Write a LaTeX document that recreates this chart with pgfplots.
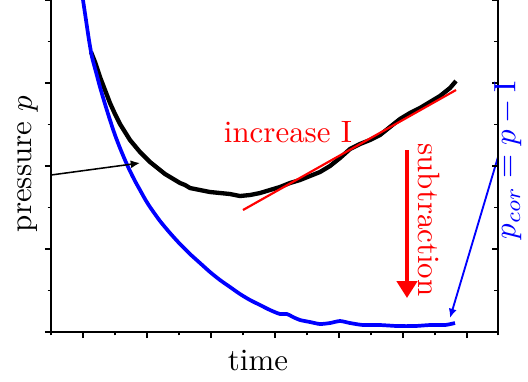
\documentclass[border=0pt]{standalone}
\usepackage{pgfplots}
\pgfplotsset{compat=1.18}
\usetikzlibrary{arrows.meta}

\pgfplotstableread{
x y
91 280
95 270
100 255
105 242
110 229
115 218
120 208
125 200
130 192
135 186
140 180
145 175
150 170
155 166
160 162
165 158
170 155
175 152
180 149
185 147
190 144
195 143
200 142
210 140
220 139
230 138
240 136
250 137
260 139
270 142
280 145
290 149
300 152
310 156
320 160
330 166
340 174
350 183
360 188
370 192
380 197
390 205
400 213
410 219
420 224
430 230
440 236
450 244
456 251
}\blackdata

\pgfplotstableread{
x y
83 332
86 312
89 292
92 275
96 260
100 245
105 228
110 212
115 197
120 184
125 172
130 161
135 151
140 142
145 133
150 125
160 111
170 99
180 88
190 78
200 69
210 60
220 52
230 45
240 38
250 32
260 27
270 22
280 18
287 18
293 15
300 12
310 10
320 8
330 9
340 11
350 9
363 7
380 7
397 6
415 6
430 7
445 7
455 9
}\bluedata

\begin{document}
\begin{tikzpicture}
\useasboundingbox (-16.50pt,-15.86pt) rectangle (154.36pt,107.44pt);
\begin{axis}[
  at={(0,0)}, anchor=south west,
  scale only axis, width=144.65pt, height=107.44pt,
  xmin=51, xmax=498, ymin=0, ymax=332,
  axis x line*=bottom, axis y line*=left,
  xtick={83,147,211,275,339,403,467},
  minor xtick={51,115,179,243,307,371,435,498},
  ytick={0,83,166,249,332},
  minor ytick={41.5,124.5,207.5,290.5},
  xticklabels={}, yticklabels={},
  tick align=outside, major tick length=2pt, minor tick length=1.1pt,
  tick style={black, line width=0.4pt},
  xlabel={time}, ylabel={pressure $p$},
  xlabel style={at={(axis description cs:0.463,-0.1145)}, anchor=base, inner sep=0pt},
  ylabel style={at={(axis description cs:-0.0425,0.506)}, anchor=base, inner sep=0pt},
  clip=false,
]
\addplot[black, line width=1.4pt, line join=round] table[x=x,y=y] {\blackdata};
\addplot[blue, line width=1.2pt, line join=round, smooth, tension=0.4] table[x=x,y=y] {\bluedata};
\addplot[red, line width=0.7pt] coordinates {(243,122) (456,242)};
\draw[red, line width=1.5pt, -{Triangle[width=6.5pt,length=5.5pt]}] (axis cs:407,182) -- (axis cs:407,34);
\draw[black, line width=0.5pt, -{Latex[length=3pt,width=2.6pt]}] (axis cs:51,157) -- (axis cs:140,169);
\draw[blue, line width=0.6pt, -{Latex[length=3pt,width=2.6pt]}] (axis cs:498,175) -- (axis cs:450,14);
\node[red, anchor=base, inner sep=0pt] at (axis cs:288,190) {increase I};
\node[red, rotate=-90, anchor=base, inner sep=0pt] at (axis cs:418,112) {subtraction};
\end{axis}
\begin{axis}[
  at={(0,0)}, anchor=south west,
  scale only axis, width=144.65pt, height=107.44pt,
  xmin=51, xmax=498, ymin=0, ymax=332,
  axis x line=none, axis y line*=right,
  ytick={0,83,166,249,332},
  minor ytick={41.5,124.5,207.5,290.5},
  yticklabels={},
  tick align=inside, major tick length=1.8pt, minor tick length=1.4pt,
  tick style={black, line width=0.4pt},
  ylabel={\color{blue}$p_{cor} = p - \mathrm{I}$},
  ylabel style={at={(axis description cs:1.039,0.518)}, anchor=base, inner sep=0pt},
]
\end{axis}
\end{tikzpicture}
\end{document}
